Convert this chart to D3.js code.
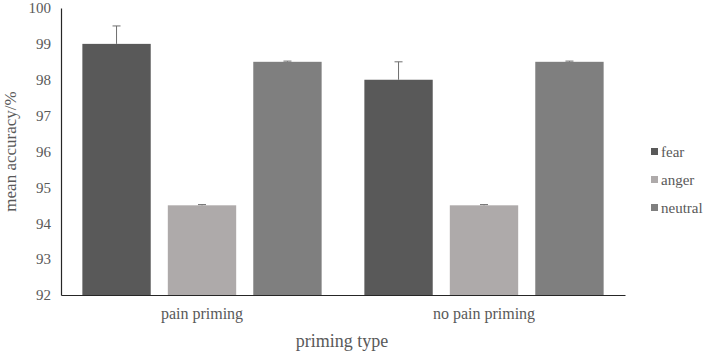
<!DOCTYPE html>
<html>
<head>
<meta charset="utf-8">
<script src="https://cdn.jsdelivr.net/npm/d3@7"></script>
<style>
    body { margin: 0; background: #fff; }
</style>
</head>
<body>
<div id="chart"></div>
<script>
// 数据
const categories = ['pain priming', 'no pain priming'];
const seriesNames = ['fear', 'anger', 'neutral'];
const fearValues = [99, 98];
const angerValues = [94.5, 94.5];
const neutralValues = [98.5, 98.5];
const fearErrors = [0.5, 0.5];
const angerErrors = [0.02, 0.02];
const neutralErrors = [0.02, 0.02];
const yTicks = [92, 93, 94, 95, 96, 97, 98, 99, 100];

const colors = { fear: '#595959', anger: '#aeaaaa', neutral: '#7f7f7f' };
const FONT = "'Times New Roman', 'Liberation Serif', 'DejaVu Serif', serif";
const TEXT_COLOR = '#595959';

const width = 708, height = 352;
const margin = { left: 61, right: 83, top: 8, bottom: 57 };

const svg = d3.select('#chart').append('svg')
    .attr('width', width)
    .attr('height', height)
    .attr('font-family', FONT);

const x0 = d3.scaleBand()
    .domain(categories)
    .range([margin.left, width - margin.right])
    .paddingInner(0)
    .paddingOuter(0);

const x1 = d3.scaleBand()
    .domain(seriesNames)
    .range([0, x0.bandwidth()])
    .paddingInner(0.2)
    .paddingOuter(0.25);

const y = d3.scaleLinear()
    .domain([92, 100])
    .range([height - margin.bottom, margin.top]);

// 构建数据
const rows = [];
categories.forEach((c, i) => {
    rows.push({ cat: c, key: 'fear', value: fearValues[i], err: fearErrors[i] });
    rows.push({ cat: c, key: 'anger', value: angerValues[i], err: angerErrors[i] });
    rows.push({ cat: c, key: 'neutral', value: neutralValues[i], err: neutralErrors[i] });
});

// 柱子
svg.append('g').selectAll('rect')
    .data(rows)
    .enter()
    .append('rect')
    .attr('x', d => x0(d.cat) + x1(d.key))
    .attr('y', d => y(d.value))
    .attr('width', x1.bandwidth())
    .attr('height', d => y(92) - y(d.value))
    .attr('fill', d => colors[d.key]);

// 误差线
const errG = svg.append('g')
    .attr('stroke', '#6f6f6f')
    .attr('stroke-width', 1);
rows.forEach(d => {
    const cx = x0(d.cat) + x1(d.key) + x1.bandwidth() / 2;
    errG.append('line')
        .attr('x1', cx).attr('x2', cx)
        .attr('y1', y(d.value)).attr('y2', y(d.value + d.err));
    errG.append('line')
        .attr('x1', cx - 4).attr('x2', cx + 4)
        .attr('y1', y(d.value + d.err)).attr('y2', y(d.value + d.err));
});

// Y轴
const yAxis = svg.append('g')
    .attr('transform', `translate(${margin.left},0)`)
    .call(d3.axisLeft(y).tickValues(yTicks).tickSize(0).tickPadding(10));
yAxis.attr('font-family', FONT).attr('font-size', '15px');
yAxis.select('.domain').attr('stroke', '#262626').attr('stroke-width', 1.2);
yAxis.selectAll('text').attr('fill', TEXT_COLOR);

// X轴
const xAxis = svg.append('g')
    .attr('transform', `translate(0,${y(92)})`)
    .call(d3.axisBottom(x0).tickSize(0).tickPadding(13));
xAxis.attr('font-family', FONT).attr('font-size', '16px');
xAxis.select('.domain').attr('stroke', '#262626').attr('stroke-width', 1.2);
xAxis.selectAll('text').attr('fill', TEXT_COLOR);

// 轴标题
svg.append('text')
    .attr('x', 342)
    .attr('y', 347)
    .attr('text-anchor', 'middle')
    .attr('font-size', '18px')
    .attr('fill', TEXT_COLOR)
    .text('priming type');

svg.append('text')
    .attr('transform', `translate(16,${(y(92) + y(100)) / 2}) rotate(-90)`)
    .attr('text-anchor', 'middle')
    .attr('font-size', '17px')
    .attr('fill', TEXT_COLOR)
    .text('mean accuracy/%');

// 图例
const legend = svg.append('g')
    .attr('transform', 'translate(651,152)');
seriesNames.forEach((name, i) => {
    const g = legend.append('g').attr('transform', `translate(0,${i * 28})`);
    g.append('rect')
        .attr('x', 0).attr('y', -4)
        .attr('width', 7).attr('height', 7)
        .attr('fill', colors[name]);
    g.append('text')
        .attr('x', 10).attr('y', 0)
        .attr('dy', '0.35em')
        .attr('font-size', '15px')
        .attr('fill', TEXT_COLOR)
        .text(name);
});
</script>
</body>
</html>
